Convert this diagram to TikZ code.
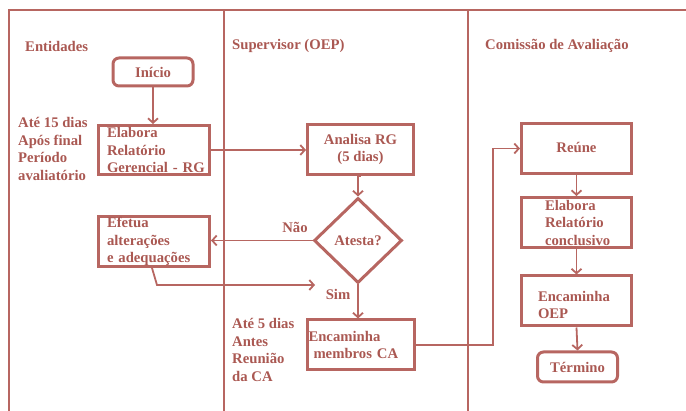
\documentclass[tikz,border=0pt]{standalone}
\usepackage{fontspec}
\setmainfont{Liberation Serif}
\usetikzlibrary{arrows.meta,shapes.geometric}
\definecolor{lc}{RGB}{183,102,97}
\definecolor{tc}{RGB}{170,88,82}
\newcommand\myind[1]{\hspace*{#1pt}}
\begin{document}
\begin{tikzpicture}[x=1pt,y=-1pt,
  font=\fontsize{14.7}{17.5}\selectfont\bfseries,
  every node/.style={text=tc},
  box/.style={draw=lc, line width=3pt, rectangle, inner sep=0pt},
  rbox/.style={box, rounded corners=6pt},
  ltext/.style={align=left, text width=#1, inner xsep=0pt},
  lbl/.style={inner sep=0pt, anchor=west, align=left},
  frame/.style={draw=lc, line width=2.5pt},
  conn/.style={draw=lc, line width=1.8pt, -{Straight Barb[length=4.5pt,width=10pt]}}]
\useasboundingbox (0,0) rectangle (686,411);

% lanes
\draw[frame] (9,411) -- (9,10) -- (686,10);
\draw[frame] (224,10) -- (224,411);
\draw[frame] (468,10) -- (468,411);

\node[lbl] (hEnt) at (25,46) {Entidades};
\node[lbl] (hSup) at (232,46) {Supervisor (OEP)};
\node[lbl] (hCom) at (485,46) {Comissão de Avaliação};

\node[lbl] (t15) at (18,149) {Até 15 dias\\Após final\\Período\\avaliatório};
\node[lbl] (t5) at (232,350) {Até 5 dias\\Antes\\Reunião\\da CA};

% nodes
\node[rbox, minimum width=80pt, minimum height=28pt] (inicio) at (153,72) {Início};
\node[box, minimum width=111pt, minimum height=49pt, ltext=111pt] (elab) at (154,150) {\myind{8.5}Elabora\\\myind{8.5}Relatório\\\myind{8.5}Gerencial - RG};
\node[box, minimum width=111pt, minimum height=50pt, ltext=111pt] (efetua) at (154,241.5) {\myind{8.5}Efetua\\\myind{8.5}alterações\\\myind{8.5}e adequações};
\node[box, minimum width=106pt, minimum height=50pt, align=center] (analisa) at (360.5,149.5) {Analisa RG\\(5 dias)};
\node[diamond, draw=lc, line width=3pt, inner sep=0pt, minimum width=88pt, minimum height=85pt] (atesta) at (358,240.5) {\raisebox{-2pt}{Atesta?}};
\node[box, minimum width=107pt, minimum height=50pt, ltext=107pt] (encam) at (361,345) {\myind{1}Encaminha\\\myind{6}membros CA};

\node[box, minimum width=110pt, minimum height=50pt] (reune) at (576.5,148.5) {\raisebox{2pt}{Reúne}};
\node[box, minimum width=110pt, minimum height=50pt, ltext=110pt] (elabc) at (576.5,222.5) {\myind{23.5}Elabora\\\myind{23.5}Relatório\\\myind{23.5}conclusivo};
\node[box, minimum width=110pt, minimum height=50pt, ltext=110pt, text height=18pt, text depth=17.5pt] (encoep) at (576.5,301) {\myind{16.5}Encaminha\\\myind{16.5}OEP};
\node[rbox, minimum width=80pt, minimum height=30pt] (termino) at (577.5,367) {Término};

\node[inner sep=0pt] (nao) at (295,227) {Não};
\node[inner sep=0pt] (sim) at (338,294) {Sim};

% connectors
\draw[conn] (inicio.south) -- (inicio.south |- elab.north);
\draw[conn] (elab.east) -- (elab.east -| analisa.west);
\draw[conn] (analisa.south) -- (analisa.south -| atesta.north) -- (atesta.north);
\draw[conn] (atesta.west) -- (atesta.west -| efetua.east);
\coordinate (ret) at (315,285);
\draw[conn] ([xshift=-2pt]efetua.south) -- ++(5,17) -- (ret);
\draw[conn] (atesta.south) -- (atesta.south |- encam.north);
\draw[conn] (encam.east) -- ++(77,0) |- (reune.west);
\draw[conn] (reune.south) -- (elabc.north);
\draw[conn] (elabc.south) -- (encoep.north);
\draw[conn] (encoep.south) -- (termino.north);
\end{tikzpicture}
\end{document}
